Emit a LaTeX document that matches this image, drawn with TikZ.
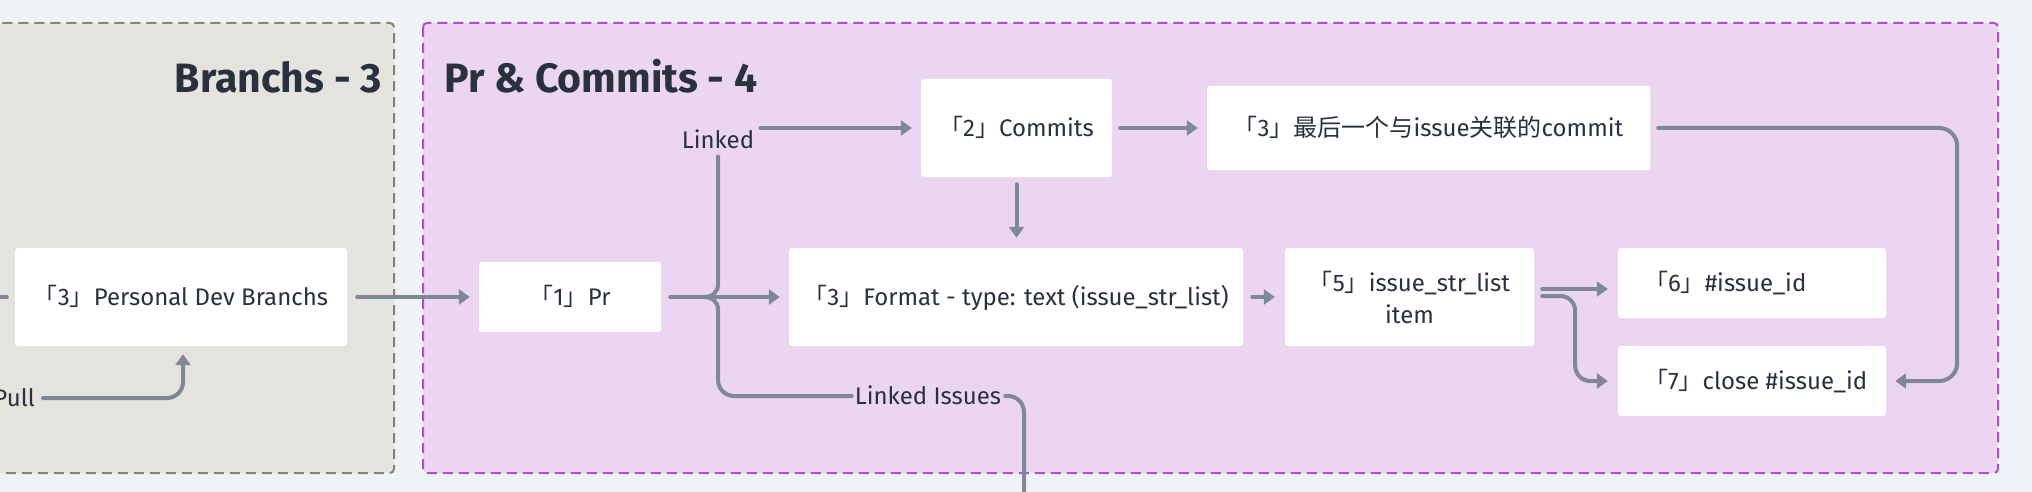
\documentclass[tikz,border=0pt]{standalone}
\usepackage{fontspec}
\setmainfont{Fira Sans}
\newfontfamily\cjk{Noto Sans CJK SC}
\usetikzlibrary{arrows.meta}
\definecolor{bg}{HTML}{F0F3F6}
\definecolor{brfill}{HTML}{E5E3DE}
\definecolor{brdash}{HTML}{8A8272}
\definecolor{prfill}{HTML}{ECD5F1}
\definecolor{prdash}{HTML}{B24ECB}
\definecolor{ln}{HTML}{7E8995}
\definecolor{txt}{HTML}{29313E}
\newcommand\mybr[1]{{\cjk 「}#1{\cjk 」}}
\newcommand\lblfont{\fontsize{24}{32}\selectfont}
\newcommand\leftbox[1]{\makebox[216pt][l]{#1}}
\begin{document}
\begin{tikzpicture}[x=1pt,y=-1pt,
  box/.style={fill=white, rounded corners=3pt, inner sep=0pt, text=txt, font=\lblfont, text height=16.5pt, text depth=0pt},
  lbl/.style={inner sep=2pt, text=txt, font=\lblfont, text height=16.5pt, text depth=0pt},
  grp/.style={line width=2pt, dash pattern=on 10pt off 6pt, rounded corners=4pt},
  title/.style={inner sep=0pt, text=txt, font=\fontsize{41}{48}\selectfont\bfseries},
  line/.style={draw=ln, line width=4pt, line cap=round},
  conn/.style={line, -{Triangle[length=11pt,width=15pt]}}]
\useasboundingbox (0,0) rectangle (2032,492);
\clip (0,0) rectangle (2032,492);
\fill[bg] (0,0) rectangle (2032,492);
% groups
\draw[grp, fill=brfill, draw=brdash] (-30,23) rectangle (394,473);
\draw[grp, fill=prfill, draw=prdash] (423,23) rectangle (1998,473);
\node[title, anchor=base east] (t1) at (382,93) {Branchs - 3};
\node[title, anchor=base west] (t2) at (444,93) {Pr \& Commits - 4};
% nodes
\node[box, minimum width=332pt, minimum height=98pt] (pdb) at (181,297) {\mybr{3}Personal Dev Branchs};
\node[box, minimum width=182pt, minimum height=70pt] (pr) at (570,297) {\mybr{1}Pr};
\node[box, minimum width=191pt, minimum height=98pt] (commits) at (1016.5,128) {\mybr{2}Commits};
\node[box, minimum width=443pt, minimum height=84pt] (last) at (1428.5,128) {\mybr{3}{\cjk 最后一个与}issue{\cjk 关联的}commit};
\node[box, minimum width=454pt, minimum height=98pt] (fmt) at (1016,297) {\mybr{3}Format - type: text (issue\_str\_list)};
\node[box, minimum width=249pt, minimum height=98pt, align=center, text height=, text depth=] (n5) at (1409.5,297) {\mybr{5}issue\_str\_list\\item};
\node[box, minimum width=268pt, minimum height=70pt] (n6) at (1752,283) {\leftbox{\mybr{6}\#issue\_id}};
\node[box, minimum width=268pt, minimum height=70pt] (n7) at (1752,381) {\leftbox{\mybr{7}close \#issue\_id}};
% labels
\node[lbl, anchor=east] (pull) at (37,398) {Pull};
\node[lbl] (linked) at (718,140) {Linked};
\node[lbl, inner sep=1pt] (lissues) at (928,396) {Linked Issues};
% connectors
\draw[line] (-10,297) -- ([xshift=-8pt]pdb.west);
\draw[conn, rounded corners=16pt] ([xshift=6pt]pull.east) -| ([xshift=2pt,yshift=-8pt]pdb.south);
\draw[conn] ([xshift=10pt]pdb.east) -- ([xshift=-9pt]pr.west);
\draw[conn] ([xshift=9pt]pr.east) -- ([xshift=-9pt]fmt.west);
\draw[line] ([yshift=-6pt]linked.south) -- (718,284) .. controls (718,293) and (712,297) .. (703,297);
\draw[line] (703,297) .. controls (712,297) and (718,301) .. (718,310);
\draw[line, rounded corners=16pt] (718,309) |- ([xshift=-2pt]lissues.west);
\draw[conn] ([xshift=4pt]linked.east |- commits.west) -- ([xshift=-9pt]commits.west);
\draw[conn] ([xshift=8pt]commits.east) -- ([xshift=-9pt]last.west);
\draw[conn] ([yshift=-7pt]commits.south) -- ([yshift=10pt]fmt.north -| commits.south);
\draw[conn] ([xshift=9pt]fmt.east) -- ([xshift=-10pt]n5.west);
\coordinate (a6) at ([xshift=8pt,yshift=8pt]n5.east);
\draw[conn] (a6) -- ([xshift=-10pt]n6.west |- a6);
\draw[conn, rounded corners=15pt] ([xshift=8pt,yshift=1pt]n5.east) -- ++(33,0) |- ([xshift=-10pt]n7.west);
\draw[conn, rounded corners=18pt] ([xshift=8pt]last.east) -- ++(299,0) |- ([xshift=9pt]n7.east);
\draw[line, rounded corners=16pt] ([xshift=3pt]lissues.east) -| (1024,510);
\end{tikzpicture}
\end{document}
